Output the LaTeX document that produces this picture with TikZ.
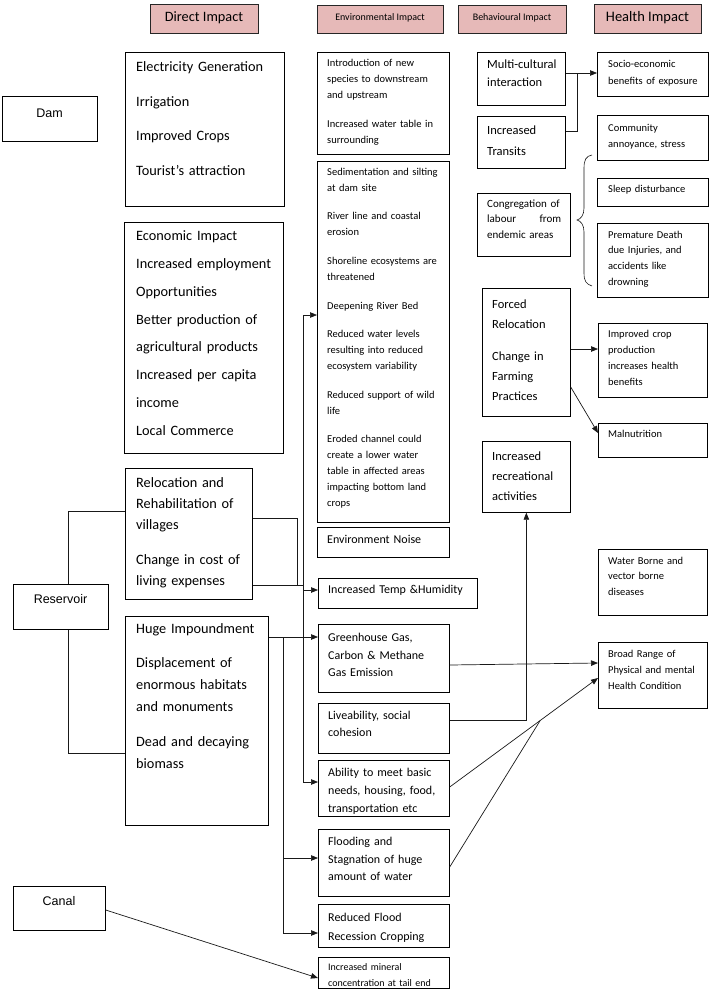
\documentclass[tikz,border=0pt]{standalone}
\usepackage{fontspec}
\setmainfont{Carlito}
\newfontfamily\arialf{Liberation Sans}
\usetikzlibrary{arrows.meta,calc}
\definecolor{hdr}{HTML}{E6B9B8}
\newcommand\mybox[5]{\node[bx, minimum width=#4-#2, minimum height=#5-#3] (#1) at (#2,#3) {};}
\newcommand\myhdr[6]{\node[hd, minimum width=#4-#2, minimum height=#5-#3, font=\fontsize{#6}{#6}\selectfont] (#1) at ({(#2+#4)/2},{(#3+#5)/2}) {\strut\csname hdtext#1\endcsname};}
\begin{document}
\begin{tikzpicture}[x=1pt,y=-1pt,
  bx/.style={draw=black, line width=0.7pt, inner sep=0pt, anchor=north west},
  hd/.style={draw=black!85, fill=hdr, line width=0.9pt, inner sep=0pt},
  tx/.style={anchor=base west, inner sep=0pt, align=left, text width=#1},
  tx/.default=160pt,
  big/.style={font=\fontsize{14.3}{#1}\selectfont},
  med/.style={font=\fontsize{12}{#1}\selectfont},
  beh/.style={font=\fontsize{12.5}{#1}\selectfont},
  sml/.style={font=\fontsize{10.5}{#1}\selectfont},
  ln/.style={draw=black!90, line width=0.7pt},
  arr/.style={ln, -{Triangle[length=7pt,width=5.5pt]}}]
\useasboundingbox (0,0) rectangle (709,990);
\fill[white] (0,0) rectangle (709,990);

% headers
\def\hdtexthA{Direct Impact}
\def\hdtexthB{Environmental Impact}
\def\hdtexthC{Behavioural Impact}
\def\hdtexthD{Health Impact}
\myhdr{hA}{150}{4}{258}{33}{14.3}
\myhdr{hB}{317}{5}{443}{33}{10}
\myhdr{hC}{458}{5}{566}{33}{10}
\myhdr{hD}{594}{4}{701}{33}{14.5}

% sources
\mybox{dam}{2}{96}{97}{141}
\node[inner sep=0pt, anchor=base, font=\arialf\fontsize{12.5}{14}\selectfont] (damt) at (49.5,117) {Dam};
\mybox{res}{13}{584}{108}{629}
\node[inner sep=0pt, anchor=base, font=\arialf\fontsize{12.5}{14}\selectfont] (rest) at (60.5,603) {Reservoir};
\mybox{canal}{13}{886}{105}{930}
\node[inner sep=0pt, anchor=base, font=\arialf\fontsize{12.5}{14}\selectfont] (canalt) at (59,905) {Canal};

% direct impact column
\mybox{elec}{125}{52}{284}{206}
\node[tx, big=34.7] (elect) at (136,71.3) {Electricity Generation\\Irrigation\\Improved Crops\\Tourist’s attraction};
\mybox{econ}{124}{222}{283}{453}
\node[tx, big=27.9] (econt) at (136,240.3) {Economic Impact\\Increased employment\\Opportunities\\Better production of\\agricultural products\\Increased per capita\\income\\Local Commerce};
\mybox{reloc}{125}{468}{252}{599}
\node[tx, big=21] (reloct) at (136,487.3) {Relocation and\\Rehabilitation of\\villages\\[14pt]Change in cost of\\living expenses};
\mybox{huge}{125}{616}{268}{825}
\node[tx, big=22] (huget) at (136,633.3) {Huge Impoundment\\[12pt]Displacement of\\enormous habitats\\and monuments\\[13pt]Dead and decaying\\biomass};

% environmental column
\mybox{intro}{317}{52}{449}{154}
\node[tx, sml=16] (introt) at (327,66.5) {Introduction of new\\species to downstream\\and upstream\\[13pt]Increased water table in\\surrounding};
\mybox{sed}{317}{161}{449}{522}
\node[tx, sml=15.8] (sedt) at (327,175.2) {Sedimentation and silting\\at dam site\\[13pt]River line and coastal\\erosion\\[13pt]Shoreline ecosystems are\\threatened\\[13pt]Deepening River Bed\\[13pt]Reduced water levels\\resulting into reduced\\ecosystem variability\\[13pt]Reduced support of wild\\life\\[13pt]Eroded channel could\\create a lower water\\table in affected areas\\impacting bottom land\\crops};
\mybox{noise}{317}{527}{449}{557}
\node[tx, med=14] (noiset) at (327,543.6) {Environment Noise};
\mybox{temp}{318}{578}{477}{608}
\node[tx, med=14] (tempt) at (328,593.6) {Increased Temp \&Humidity};
\mybox{green}{318}{624}{449}{692}
\node[tx, med=17.5] (greent) at (328,641.6) {Greenhouse Gas,\\Carbon \& Methane\\Gas Emission};
\mybox{live}{318}{703}{449}{753}
\node[tx, med=17] (livet) at (328,719.6) {Liveability, social\\cohesion};
\mybox{abil}{318}{760}{449}{816}
\node[tx, med=18] (abilt) at (328,776.6) {Ability to meet basic\\needs, housing, food,\\transportation etc};
\mybox{flood}{318}{829}{449}{896}
\node[tx, med=17.5] (floodt) at (328,845.6) {Flooding and\\Stagnation of huge\\amount of water};
\mybox{redf}{318}{904}{449}{947}
\node[tx, med=19] (redft) at (328,921.6) {Reduced Flood\\Recession Cropping};
\mybox{mineral}{318}{957}{449}{988}
\node[tx, font=\fontsize{10}{16}\selectfont] (mineralt) at (328,970) {Increased mineral\\concentration at tail end};

% behavioural column
\mybox{multi}{477}{52}{565}{105}
\node[tx, beh=18] (multit) at (487,68.8) {Multi-cultural\\interaction};
\mybox{trans}{477}{116}{565}{168}
\node[tx, beh=21] (transt) at (487,134.8) {Increased\\Transits};
\mybox{cong}{477}{193}{570}{256}
\node[tx, font=\fontsize{11}{15.5}\selectfont] (congt) at (487,207.3) {Congregation of\\\leavevmode\hbox to 74pt{labour\hfill from}\\endemic areas};
\mybox{forced}{482}{288}{570}{416}
\node[tx, beh=20] (forcedt) at (492,308) {Forced\\Relocation\\[12pt]Change in\\Farming\\Practices};
\mybox{rec}{482}{441}{570}{512}
\node[tx, beh=20] (rect) at (492,460) {Increased\\recreational\\activities};

% health column
\mybox{soc}{597}{52}{708}{96}
\node[tx, sml=17] (soct) at (608,67.2) {Socio-economic\\benefits of exposure};
\mybox{comm}{597}{115}{708}{160}
\node[tx, sml=16] (commt) at (608,131.2) {Community\\annoyance, stress};
\mybox{sleep}{597}{178}{708}{206}
\node[tx, sml=16] (sleept) at (608,192.2) {Sleep disturbance};
\mybox{prem}{597}{223}{708}{297}
\node[tx, sml=15.7] (premt) at (608,238.2) {Premature Death\\due Injuries, and\\accidents like\\drowning};
\mybox{impc}{598}{323}{707}{397}
\node[tx, sml=16] (impct) at (608,337.2) {Improved crop\\production\\increases health\\benefits};
\mybox{maln}{598}{423}{707}{457}
\node[tx, sml=16] (malnt) at (608,437.2) {Malnutrition};
\mybox{water}{598}{549}{707}{615}
\node[tx, sml=15.5] (watert) at (608,564.2) {Water Borne and\\vector borne\\diseases};
\mybox{broad}{598}{642}{707}{708}
\node[tx, sml=16] (broadt) at (608,657.2) {Broad Range of\\Physical and mental\\Health Condition};

% brace
\draw[ln, line width=0.6pt] (592,155) .. controls (586,156) and (584,160) .. (584,168) -- (584,208)
  .. controls (584,215) and (581,219) .. (577,220)
  .. controls (581,221) and (584,225) .. (584,232) -- (584,273)
  .. controls (584,281) and (586,284) .. (592,286);

% connectors
\draw[arr] ($(multi.north east)+(0,21)$) -- ($(soc.north west)+(0,21)$);
\draw[ln] ($(trans.north east)+(0,15)$) -| ($(multi.north east)+(12,21)$);
\draw[arr] ($(forced.north east)+(0,61)$) -- ($(impc.north west)+(0,26)$);
\draw[arr] ($(forced.north east)+(0,99)$) -- ($(maln.north west)+(0,10)$);
\draw[arr] ($(live.north east)+(0,17)$) -| (rec.south);
\draw[arr] ($(green.north east)+(0,41)$) -- ($(broad.north west)+(0,21)$);
\draw[arr] ($(abil.north east)+(0,27)$) -- coordinate[pos=0.61] (J) ($(broad.north west)+(0,36)$);
\draw[ln] ($(flood.north east)+(0,38)$) -- (J);

\draw[ln] ($(res.north west)+(55,0)$) |- ($(reloc.north west)+(0,43)$);
\draw[ln] ($(res.south west)+(55,0)$) |- ($(huge.north west)+(0,137)$);

\draw[ln] ($(reloc.north east)+(0,50)$) -| ($(reloc.north east)+(45,117)$);
\draw[ln] ($(reloc.north east)+(0,117)$) -- ($(reloc.north east)+(51,117)$);
\coordinate (bus) at ($(abil.north west)+(-15,22)$);
\draw[arr] (bus) |- ($(sed.north west)+(0,154)$);
\draw[arr] (bus) -- ($(abil.north west)+(0,22)$);
\draw[arr] ($(temp.north west)+(-15,12)$) -- ($(temp.north west)+(0,12)$);
\draw[arr] ($(huge.north east)+(0,21)$) -- ($(green.north west)+(0,13)$);
\draw[ln] ($(huge.north east)+(15,21)$) -- ($(huge.north east)+(15,317)$);
\draw[arr] ($(flood.north west)+(-35,29)$) -- ($(flood.north west)+(0,29)$);
\draw[arr] ($(redf.north west)+(-35,29)$) -- ($(redf.north west)+(0,29)$);
\draw[arr] ($(canal.north east)+(0,24)$) -- ($(mineral.north west)+(0,21)$);
\end{tikzpicture}
\end{document}
